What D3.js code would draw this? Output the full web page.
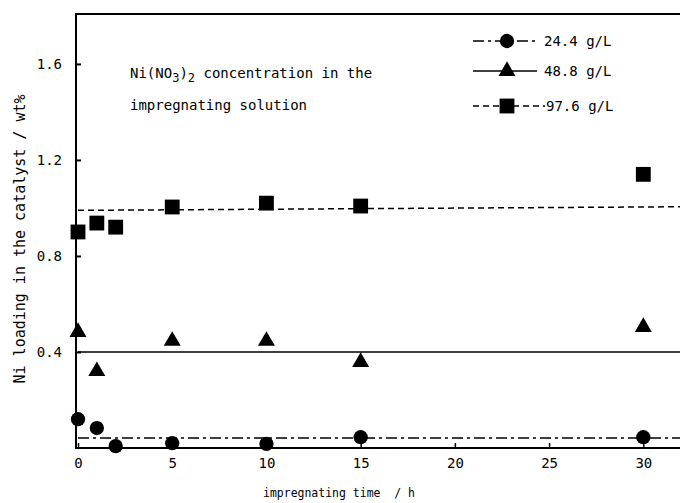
<!DOCTYPE html>
<html>
<head>
<meta charset="utf-8">
<script src="https://cdn.jsdelivr.net/npm/d3@7"></script>
<style>
  body { margin: 0; background: #fff; }
  text { font-family: "DejaVu Sans Mono", "Liberation Mono", monospace; fill: #000; white-space: pre; }
</style>
</head>
<body>
<div id="chart"></div>
<script>
// impregnating time (h)
var times = [0, 1, 2, 5, 10, 15, 30];
// Ni loading (wt%) for each Ni(NO3)2 concentration
var ni244 = [0.12, 0.083, 0.008, 0.02, 0.017, 0.045, 0.045];
var ni488 = [0.483, 0.32, null, 0.446, 0.446, 0.358, 0.504];
var ni976 = [0.90, 0.937, 0.92, 1.004, 1.02, 1.008, 1.14];
var triTimes = [0, 1, 5, 10, 15, 30];

// fitted lines
var fitTimes = [0, 32];
var fit244 = [0.042, 0.042];
var fit488 = [0.4, 0.4];
var fit976 = [0.99, 1.005];

var legendLabels = ["24.4 g/L", "48.8 g/L", "97.6 g/L"];
var xTicks = [0, 5, 10, 15, 20, 25, 30];
var yTicks = [0.4, 0.8, 1.2, 1.6];

var svgWidth = 680;
var svgHeight = 503;

var svg = d3.select("#chart")
  .append("svg")
  .attr("width", svgWidth)
  .attr("height", svgHeight);

var xScale = d3.scaleLinear().domain([0, 32]).range([78, 681]);
var yScale = d3.scaleLinear().domain([0, 1.808]).range([448, 14]);

var dashDot = "11,4,3,4";
var dashed = "6,4";

// frame
svg.append("path")
  .attr("d", "M76,14 V449 M75,448 H680 M75,14 H680")
  .attr("stroke", "#000")
  .attr("stroke-width", 2)
  .attr("fill", "none");

// axes
var xAxis = d3.axisBottom(xScale).tickValues(xTicks).tickSize(-5).tickPadding(10)
  .tickFormat(d3.format("d"));
var gx = svg.append("g").attr("transform", "translate(0,448)").call(xAxis);
gx.select(".domain").remove();
gx.selectAll("line").attr("stroke-width", 1.5);
gx.selectAll("text").style("font-size", "14px");

var yAxis = d3.axisLeft(yScale).tickValues(yTicks).tickSize(-5).tickPadding(14)
  .tickFormat(d3.format(".1f"));
var gy = svg.append("g").attr("transform", "translate(76,0)").call(yAxis);
gy.select(".domain").remove();
gy.selectAll("line").attr("stroke-width", 2);
gy.selectAll("text").style("font-size", "14px");

// fitted lines
var line = d3.line().x(d => xScale(d[0])).y(d => yScale(d[1]));
function fitLine(vals, dash) {
  svg.append("path")
    .datum(fitTimes.map((t, i) => [t, vals[i]]))
    .attr("d", line)
    .attr("fill", "none")
    .attr("stroke", "#000")
    .attr("stroke-width", 1.5)
    .attr("stroke-dasharray", dash);
}
fitLine(fit244, dashDot);
fitLine(fit488, null);
fitLine(fit976, dashed);

// markers
var circleSym = d3.symbol().type(d3.symbolCircle).size(160);
var triSym = d3.symbol().type(d3.symbolTriangle).size(125);
var sqSym = d3.symbol().type(d3.symbolSquare).size(220);

svg.selectAll(".c244")
  .data(times.map((t, i) => [t, ni244[i]]))
  .enter().append("path")
  .attr("d", circleSym)
  .attr("transform", d => `translate(${xScale(d[0])},${yScale(d[1])})`);

svg.selectAll(".c488")
  .data(triTimes.map(t => [t, ni488[times.indexOf(t)]]))
  .enter().append("path")
  .attr("d", triSym)
  .attr("transform", d => `translate(${xScale(d[0])},${yScale(d[1])})`);

svg.selectAll(".c976")
  .data(times.map((t, i) => [t, ni976[i]]))
  .enter().append("path")
  .attr("d", sqSym)
  .attr("transform", d => `translate(${xScale(d[0])},${yScale(d[1])})`);

// legend
var legendSyms = [circleSym, triSym, sqSym];
var legendDash = [dashDot, null, dashed];
var legendY = [41, 71, 106];
var lineEnd = [537, 537, 545];
legendLabels.forEach(function(label, i) {
  svg.append("line")
    .attr("x1", 473).attr("x2", lineEnd[i])
    .attr("y1", legendY[i]).attr("y2", legendY[i])
    .attr("stroke", "#000").attr("stroke-width", 1.5)
    .attr("stroke-dasharray", legendDash[i]);
  svg.append("path")
    .attr("d", legendSyms[i])
    .attr("transform", `translate(507,${legendY[i]})`);
  svg.append("text")
    .attr("x", i === 2 ? 546 : 544)
    .attr("y", legendY[i] + 5)
    .style("font-size", "14px")
    .text(label);
});

// annotation
var note = svg.append("text").attr("x", 130).attr("y", 78).style("font-size", "14px");
note.append("tspan").text("Ni(NO");
note.append("tspan").attr("dy", 4).style("font-size", "12px").text("3");
note.append("tspan").attr("dy", -4).text(")");
note.append("tspan").attr("dy", 4).style("font-size", "12px").text("2");
note.append("tspan").attr("dy", -4).text(" concentration in the");
svg.append("text").attr("x", 130).attr("y", 110).style("font-size", "14px")
  .text("impregnating solution");

// axis titles
svg.append("text")
  .attr("x", 263).attr("y", 497)
  .style("font-size", "13px")
  .attr("textLength", 152).attr("lengthAdjust", "spacingAndGlyphs")
  .text("impregnating time  / h");

svg.append("text")
  .attr("transform", "translate(25,239) rotate(-90)")
  .attr("text-anchor", "middle")
  .style("font-size", "15px")
  .text("Ni loading in the catalyst / wt%");
</script>
</body>
</html>
